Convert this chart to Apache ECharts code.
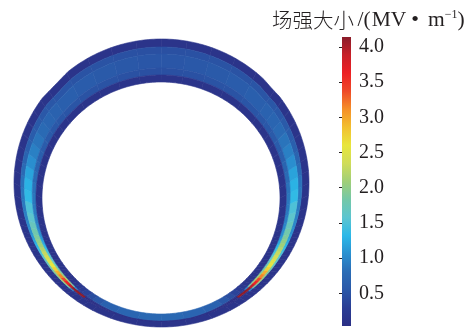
<!DOCTYPE html>
<html>
<head>
<meta charset="utf-8">
<title>场强大小</title>
<script src="https://cdn.jsdelivr.net/npm/echarts@6/dist/echarts.min.js"></script>
<style>
  html, body { margin: 0; padding: 0; background: #fff; }
  #chart { width: 472px; height: 329px; filter: blur(0.45px); }
</style>
</head>
<body>
<div id="chart"></div>
<script>
// angle around the ring, 0 = bottom, 180 = top (both sides use the same reading)
const thetas = [0, 10, 20, 28, 32, 35, 38, 40, 42, 44, 46, 48, 50, 52, 54, 56, 58, 60, 62, 64, 66, 68, 70, 73, 76, 80, 85, 90, 95, 100, 105, 110, 115, 120, 125, 130, 140, 150, 160, 170, 180];
// field in the middle of the gap
const gapMid = [0.03, 0.03, 0.03, 0.03, 0.03, 4.12, 4.12, 4.1, 3.9, 3.6, 3.4, 3.15, 2.95, 2.75, 2.6, 2.5, 2.4, 2.3, 2.2, 2.1, 2.0, 1.9, 1.8, 1.7, 1.6, 1.5, 1.35, 1.28, 1.18, 1.05, 0.95, 0.86, 0.78, 0.72, 0.68, 0.64, 0.6, 0.57, 0.55, 0.53, 0.53];
// field at the gap edges
const gapEdge = [0.03, 0.03, 0.03, 0.03, 0.03, 0.03, 0.2, 1.0, 1.8, 2.0, 2.1, 2.0, 1.9, 1.8, 1.7, 1.65, 1.6, 1.5, 1.4, 1.3, 1.2, 1.12, 1.05, 1.0, 0.95, 0.9, 0.88, 0.85, 0.78, 0.7, 0.64, 0.6, 0.57, 0.55, 0.54, 0.52, 0.5, 0.5, 0.48, 0.47, 0.47];
// field in the inner layer
const innerLayer = [0.75, 0.72, 0.68, 0.55, 0.45, 0.35, 0.25, 0.2, 0.15, 0.12, 0.12, 0.12, 0.12, 0.12, 0.12, 0.12, 0.12, 0.12, 0.12, 0.12, 0.12, 0.12, 0.12, 0.12, 0.12, 0.12, 0.12, 0.12, 0.12, 0.12, 0.12, 0.12, 0.12, 0.12, 0.12, 0.12, 0.12, 0.12, 0.12, 0.12, 0.12];
const outerField = 0.12;

const scaleMin = 0.035;
const scaleMax = 4.14;
const scaleColors = ['#2b2f85', '#2a3d94', '#2a58a8', '#2a6cb5', '#2a90d0', '#2bb8e8', '#5cc5d0', '#74c8a8', '#a0cf78', '#cfdc5a', '#e8e63c', '#f2c030', '#f59028', '#ee4a28', '#ed2024', '#c81f28', '#8a1c2a'];
const tickValues = [0.5, 1.0, 1.5, 2.0, 2.5, 3.0, 3.5, 4.0];

// ring outline, in picture units
const outer = { cx: 161.5, cy: 183, rx: 147.5, ry: 144 };
const inner = { cx: 161, cy: 198, rx: 119, ry: 116 };

function edgePoint(e, side, deg) {
  const a = deg * Math.PI / 180;
  return [e.cx + side * e.rx * Math.sin(a), e.cy + e.ry * Math.cos(a)];
}

// the outer edge is flattened a little on the upper shoulders
function shoulderTrim(side, deg) {
  const from = side < 0 ? 126 : 127;
  const to = side < 0 ? 141 : 136;
  if (deg <= from || deg >= to) return 0;
  return (side < 0 ? 1.2 : 0.7) * Math.sin(Math.PI * (deg - from) / (to - from));
}

// 0..1 positions of the layer borders from outer to inner edge at this angle
function layerStops(deg) {
  const o = edgePoint(outer, 1, deg);
  const i = edgePoint(inner, 1, deg);
  const total = Math.hypot(o[0] - i[0], o[1] - i[1]);
  const shellO = 5.5 + 2.5 * Math.min(1, deg / 60);
  const gap = Math.max(1, total - shellO - 7);
  return [0, shellO, shellO + gap * 0.25, shellO + gap * 0.75, shellO + gap, total].map(v => v / total);
}

function ringPoint(side, deg, t) {
  const o = edgePoint(outer, side, deg);
  const i = edgePoint(inner, side, deg);
  const trim = shoulderTrim(side, deg) * (1 - t) / Math.hypot(o[0] - i[0], o[1] - i[1]);
  const k = t + trim;
  return [o[0] + (i[0] - o[0]) * k, o[1] + (i[1] - o[1]) * k];
}

const ringData = [];
[-1, 1].forEach(side => {
  thetas.slice(0, -1).forEach((t, i) => {
    [outerField, gapEdge[i], gapMid[i], gapEdge[i], innerLayer[i]].forEach((v, layer) => {
      ringData.push([t, thetas[i + 1], side, layer, v]);
    });
  });
});

function renderCell(params, api) {
  const from = api.value(0);
  const to = api.value(1);
  const side = api.value(2);
  const layer = api.value(3);
  const front = [];
  const back = [];
  for (let d = from; ; d = Math.min(to, d + 1)) {
    const stops = layerStops(d);
    front.push(api.coord(ringPoint(side, d, stops[layer])));
    back.unshift(api.coord(ringPoint(side, d, stops[layer + 1])));
    if (d >= to) break;
  }
  const color = api.visual('color');
  return {
    type: 'polygon',
    shape: { points: front.concat(back) },
    style: { fill: color, stroke: color, lineWidth: 0.6 }
  };
}

// colour bar, one rect spanning the scale on the second grid
function renderBar(params, api) {
  const low = api.coord([0, api.value(0)]);
  const high = api.coord([1, api.value(1)]);
  return {
    type: 'rect',
    shape: { x: low[0], y: high[1], width: high[0] - low[0], height: low[1] - high[1] },
    style: {
      fill: new echarts.graphic.LinearGradient(0, 1, 0, 0, scaleColors.map((color, i) => ({
        offset: i / (scaleColors.length - 1),
        color
      })))
    }
  };
}

const ink = '#231f20';
const chart = echarts.init(document.getElementById('chart'), null, { renderer: 'canvas' });
chart.setOption({
  animation: false,
  backgroundColor: '#fff',
  title: {
    left: 272,
    top: 9,
    padding: 0,
    text: '{cn|场强大小}{slash|/(}{en|MV}{dot|•}{en|m}{sup|−1}{en|)}',
    textStyle: {
      fontFamily: 'Liberation Serif',
      fontSize: 21,
      fontWeight: 'normal',
      color: ink,
      rich: {
        cn: { fontFamily: 'Noto Sans CJK SC', fontSize: 20.5, fontWeight: 300, color: ink },
        slash: { fontFamily: 'Liberation Serif', fontSize: 21.5, padding: [0, 1, 0, 3.5], color: ink },
        en: { fontFamily: 'Liberation Serif', fontSize: 21.5, color: ink },
        dot: { fontFamily: 'Liberation Serif', fontSize: 22, padding: [0, 9, 0, 5], color: ink },
        sup: { fontFamily: 'Liberation Serif', fontSize: 12, verticalAlign: 'top', padding: [0, 0, 8, 0], color: ink }
      }
    }
  },
  grid: [
    { left: 0, top: 0, width: 472, height: 329 },
    { left: 342, top: 37, width: 9, height: 291.5 }
  ],
  xAxis: [
    { type: 'value', gridIndex: 0, min: 0, max: 472, show: false },
    { type: 'value', gridIndex: 1, min: 0, max: 1, show: false }
  ],
  yAxis: [
    { type: 'value', gridIndex: 0, min: 0, max: 329, inverse: true, show: false },
    {
      type: 'value',
      gridIndex: 1,
      min: 0,
      max: scaleMax,
      position: 'right',
      splitLine: { show: false },
      axisLine: { show: false },
      axisTick: { show: true, inside: true, length: 3, customValues: tickValues, lineStyle: { color: ink, width: 1 } },
      axisLabel: {
        customValues: tickValues,
        margin: 8,
        padding: [6, 0, 0, 0],
        fontFamily: 'Liberation Serif',
        fontSize: 20,
        color: ink,
        formatter: v => v.toFixed(1)
      },
      z: 10
    }
  ],
  visualMap: {
    type: 'continuous',
    show: false,
    min: scaleMin,
    max: scaleMax,
    dimension: 4,
    seriesIndex: 0,
    inRange: { color: scaleColors }
  },
  series: [
    {
      type: 'custom',
      xAxisIndex: 0,
      yAxisIndex: 0,
      coordinateSystem: 'cartesian2d',
      renderItem: renderCell,
      encode: { x: 0, y: 3 },
      data: ringData,
      silent: true
    },
    {
      type: 'custom',
      xAxisIndex: 1,
      yAxisIndex: 1,
      coordinateSystem: 'cartesian2d',
      renderItem: renderBar,
      encode: { y: [0, 1] },
      data: [[scaleMin, scaleMax]],
      silent: true,
      z: 1
    }
  ]
});
</script>
</body>
</html>
